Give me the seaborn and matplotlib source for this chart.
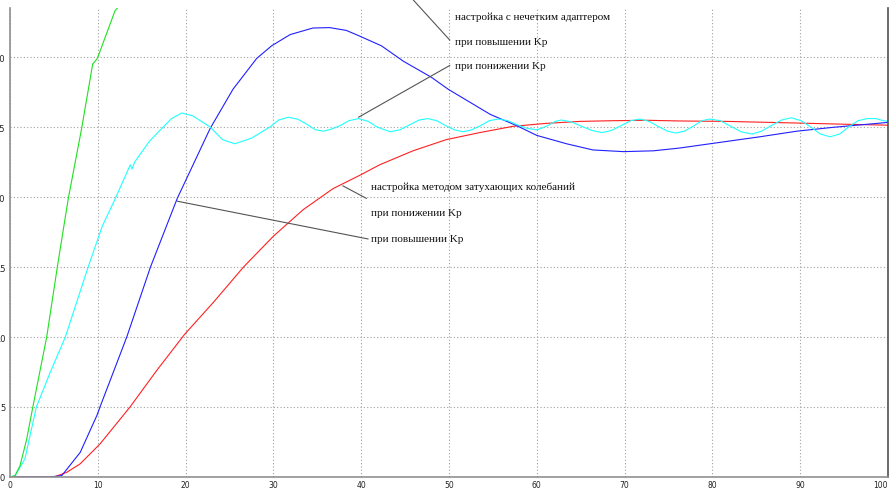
import matplotlib
matplotlib.use("Agg")
import matplotlib.pyplot as plt
import seaborn as sns

# зелёная кривая
t_green = [0, 0.57, 1.14, 1.9, 2.6, 4.18, 5.39, 6.64, 8.16, 9.42, 9.95, 11.96, 12.3, 12.6]
y_green = [0, 0.1, 0.8, 2.7, 5.0, 10.0, 15.0, 19.9, 24.9, 29.5, 29.9, 33.3, 33.55, 34.0]

# голубая кривая (нечеткий адаптер, понижение Kp)
t_cyan = [0, 0.6, 1.7, 3.0, 4.6, 6.3, 8.9, 10.5, 12.0, 13.7, 13.9, 14.2, 15.9, 17.3, 18.4,
          19.55, 20.8, 22.8, 24.2, 25.6, 27.5, 29.6, 30.6, 31.7, 32.8, 33.8, 34.8, 35.7,
          36.6, 37.6, 38.6, 39.7, 40.8, 41.8, 43.3, 44.4, 45.5, 46.6, 47.6, 48.6, 49.6,
          50.6, 51.6, 52.6, 53.6, 54.6, 55.6, 56.7, 57.8, 58.9, 60.0, 60.7, 61.4, 62.1,
          62.8, 64.0, 65.1, 66.3, 67.4, 68.5, 69.6, 70.7, 71.75, 72.8, 73.8, 74.9, 75.8,
          76.8, 77.8, 78.8, 79.7, 80.9, 82.1, 83.3, 84.5, 85.6, 86.7, 87.9, 89.0, 90.1,
          91.2, 92.3, 93.4, 94.5, 95.5, 96.6, 97.6, 98.6, 99.5, 100]
y_cyan = [0, 0.1, 1.3, 5.0, 7.5, 10.0, 15.0, 17.9, 19.9, 22.3, 22.0, 22.5, 24.0, 24.9, 25.6,
          26.0, 25.8, 25.0, 24.1, 23.8, 24.2, 25.0, 25.5, 25.7, 25.55, 25.2, 24.8, 24.7,
          24.85, 25.1, 25.45, 25.6, 25.4, 25.0, 24.66, 24.8, 25.15, 25.5, 25.6, 25.45, 25.1,
          24.8, 24.66, 24.8, 25.1, 25.45, 25.57, 25.45, 25.15, 24.9, 24.8, 24.95, 25.15, 25.4,
          25.5, 25.35, 25.05, 24.75, 24.6, 24.75, 25.1, 25.45, 25.57, 25.4, 25.05, 24.7, 24.57,
          24.7, 25.05, 25.45, 25.57, 25.45, 25.05, 24.65, 24.5, 24.7, 25.1, 25.5, 25.66, 25.45,
          25.0, 24.5, 24.3, 24.5, 25.0, 25.45, 25.6, 25.6, 25.45, 25.4]

# синяя кривая (повышение Kp)
t_blue = [0, 4.5, 5.9, 8.0, 9.9, 10.25, 13.3, 16.0, 19.05, 20.1, 22.8, 25.4, 28.1, 29.8, 31.9,
          34.5, 36.4, 38.3, 39.8, 42.3, 44.8, 48.0, 49.9, 54.7, 57.7, 60.0, 63.4, 66.4,
          69.9, 73.3, 76.3, 79.7, 85.4, 89.6, 93.8, 99.5, 100]
y_blue = [0, 0, 0.1, 1.76, 4.4, 5.0, 10.0, 15.0, 19.9, 21.3, 24.9, 27.7, 29.9, 30.8, 31.6,
          32.07, 32.1, 31.9, 31.5, 30.8, 29.7, 28.55, 27.7, 25.9, 25.1, 24.4, 23.8, 23.36,
          23.24, 23.3, 23.5, 23.8, 24.3, 24.7, 24.98, 25.3, 25.33]

# красная кривая (понижение Kp)
t_red = [0, 5.0, 6.45, 7.97, 10.25, 13.67, 16.7, 19.9, 23.2, 26.6, 30.0, 33.4, 36.8, 39.9,
         42.1, 45.9, 49.7, 53.5, 57.3, 61.1, 64.9, 68.7, 72.5, 76.3, 81.6, 89.2, 94.9, 100]
y_red = [0, 0, 0.33, 0.93, 2.36, 5.0, 7.6, 10.2, 12.5, 15.0, 17.2, 19.1, 20.6, 21.57,
         22.3, 23.3, 24.1, 24.6, 25.05, 25.26, 25.4, 25.45, 25.48, 25.43, 25.4, 25.29, 25.2, 25.13]

x_ticks = list(range(0, 101, 10))
y_ticks = list(range(0, 35, 5))

labels = ["настройка с нечетким адаптером", "при повышении Kp", "при понижении Kp",
          "настройка методом затухающих колебаний", "при понижении Kp", "при повышении Kp"]
label_x = [50.7, 50.7, 50.7, 41.1, 41.1, 41.1]
label_y = [32.9, 31.1, 29.4, 20.8, 18.9, 17.05]

# линии-выноски: (x0, y0, x1, y1)
lead_lines = [(45.6, 34.3, 50.1, 31.2),
              (39.7, 25.7, 50.1, 29.4),
              (37.9, 20.8, 40.6, 19.9),
              (19.05, 19.7, 40.8, 17.0)]

sns.set_style("white")
fig = plt.figure(figsize=(8.89, 4.89), dpi=100)
ax = fig.add_axes([10 / 889, 11 / 489, 878 / 889, 469 / 489])

for tt, yy, c in [(t_red, y_red, "#ff2020"), (t_blue, y_blue, "#2020ff"),
                  (t_cyan, y_cyan, "#20ffff"), (t_green, y_green, "#20e020")]:
    sns.lineplot(x=tt, y=yy, color=c, linewidth=0.8, sort=False, estimator=None, ax=ax)

for x0, y0, x1, y1 in lead_lines:
    ax.plot([x0, x1], [y0, y1], color="#555555", linewidth=0.8, clip_on=False)

for s, x, y in zip(labels, label_x, label_y):
    ax.text(x, y, s, fontsize=8, family="Liberation Serif", va="center", ha="left",
            color="#111111")

ax.set_xlim(0, 100)
ax.set_ylim(0, 33.5)
ax.set_xticks(x_ticks)
ax.set_yticks(y_ticks)
ax.grid(True, linestyle=(0, (1, 2)), color="#a0a0a0", linewidth=0.8)
ax.tick_params(direction="in", length=6, width=0.8, color="#333333", labelsize=5.5,
               pad=2.5, labelcolor="#222222")
ax.tick_params(axis="y", labelsize=6, pad=3.5)
ax.get_xticklabels()[-1].set_horizontalalignment("right")
ax.spines["top"].set_visible(False)
for sp in ["left", "bottom", "right"]:
    ax.spines[sp].set_color("#909090")
    ax.spines[sp].set_linewidth(1.2)
ax.spines["right"].set_color("#505050")

plt.savefig("out.png", dpi=100)
plt.close()
